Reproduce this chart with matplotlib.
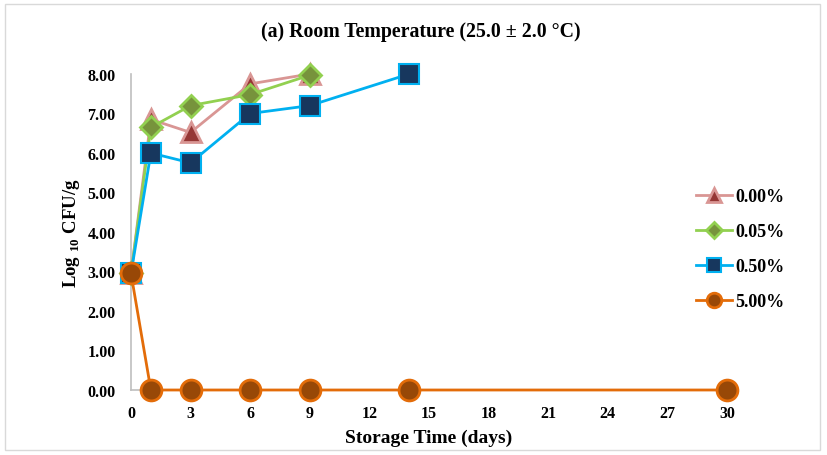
import matplotlib.pyplot as plt
from matplotlib.patches import Rectangle

plt.rcParams['font.family'] = ['Liberation Serif', 'DejaVu Serif']
plt.rcParams['font.weight'] = 'bold'
plt.rcParams['mathtext.fontset'] = 'custom'
plt.rcParams['mathtext.rm'] = 'Liberation Serif:bold'
plt.rcParams['mathtext.bf'] = 'Liberation Serif:bold'

# data
days_a = [0, 1, 3, 6, 9]
days_b = [0, 1, 3, 6, 9, 14]
days_c = [0, 1, 3, 6, 9, 14, 30]
cfu_000 = [2.95, 6.85, 6.52, 7.75, 8.00]
cfu_005 = [2.95, 6.65, 7.20, 7.48, 7.97]
cfu_050 = [2.95, 6.00, 5.75, 7.00, 7.20, 8.00]
cfu_500 = [2.95, 0, 0, 0, 0, 0, 0]
labels = ['0.00%', '0.05%', '0.50%', '5.00%']

fig = plt.figure(figsize=(8.28, 4.56), dpi=100)
fig.patches.append(Rectangle((5 / 828, 5 / 456), 815 / 828, 446 / 456, transform=fig.transFigure,
                             fill=False, edgecolor='#D9D9D9', linewidth=1))
ax = fig.add_axes([131 / 828, 1 - 391 / 456, (727 - 131) / 828, (391 - 75) / 456])

ax.plot(days_a, cfu_000, '-', color='#D99694', lw=2, marker='^', ms=15,
        mfc='#953735', mec='#D99694', mew=2, label=labels[0], clip_on=False, zorder=3)
ax.plot(days_a, cfu_005, '-', color='#92D050', lw=2, marker='D', ms=11,
        mfc='#77933C', mec='#92D050', mew=2, label=labels[1], clip_on=False, zorder=4)
ax.plot(days_b, cfu_050, '-', color='#00B0F0', lw=2, marker='s', ms=15,
        mfc='#17375E', mec='#00B0F0', mew=1.5, label=labels[2], clip_on=False, zorder=5)
ax.plot(days_c, cfu_500, '-', color='#E36C09', lw=2, marker='o', ms=15,
        mfc='#984807', mec='#E36C09', mew=2, label=labels[3], clip_on=False, zorder=6)

ax.set_xlim(0, 30)
ax.set_ylim(0, 8)
ax.set_xticks(range(0, 31, 3))
ax.set_yticks(range(0, 9))
ax.set_yticklabels([f'{v:.2f}' for v in range(0, 9)])
ax.tick_params(length=0, labelsize=11.5)
ax.tick_params(axis='y', pad=11)
ax.tick_params(axis='x', pad=11)
for s in ['top', 'right']:
    ax.spines[s].set_visible(False)
for s in ['left', 'bottom']:
    ax.spines[s].set_color('#BFBFBF')
    ax.spines[s].set_linewidth(1.2)

ax.set_xlabel('Storage Time (days)', fontsize=14, fontweight='bold', labelpad=5)
ax.set_ylabel(r'Log $_{10}$ CFU/g', fontsize=13.5, fontweight='bold', labelpad=4)
fig.text(421 / 828, 1 - 32 / 456, '(a) Room Temperature (25.0 ± 2.0 °C)',
         ha='center', va='center', fontsize=14.3, fontweight='bold')

leg = ax.legend(loc='center left', bbox_to_anchor=(680 / 828, 1 - 250 / 456),
                bbox_transform=fig.transFigure, frameon=False, fontsize=13,
                labelspacing=1.0, handlelength=2.0, handletextpad=0.15, markerscale=0.7)

fig.savefig('out.png', dpi=100)
